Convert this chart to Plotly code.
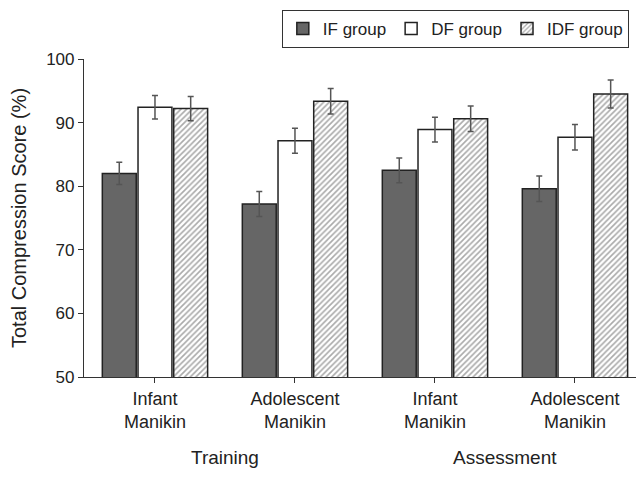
import plotly.graph_objects as go

categories = ["T_inf", "T_ado", "A_inf", "A_ado"]
tick_labels = ["Infant<br>Manikin", "Adolescent<br>Manikin", "Infant<br>Manikin", "Adolescent<br>Manikin"]
phase_labels = ["Training", "Assessment"]

if_vals = [82.0, 77.2, 82.5, 79.6]
if_err = [1.75, 1.95, 1.95, 2.0]
df_vals = [92.4, 87.15, 88.9, 87.7]
df_err = [1.85, 1.95, 1.95, 2.0]
idf_vals = [92.2, 93.35, 90.6, 94.5]
idf_err = [1.9, 2.0, 2.0, 2.2]

FONT = "Liberation Sans, Arial, sans-serif"
ERR = dict(type="data", thickness=1.5, width=3, color="#555555")

fig = go.Figure()
fig.add_trace(go.Bar(
    name="IF group", x=categories, y=if_vals,
    error_y=dict(array=if_err, **ERR),
    marker=dict(color="#666666", line=dict(color="#222222", width=1.5)),
))
fig.add_trace(go.Bar(
    name="DF group", x=categories, y=df_vals,
    error_y=dict(array=df_err, **ERR),
    marker=dict(color="#ffffff", line=dict(color="#222222", width=1.5)),
))
fig.add_trace(go.Bar(
    name="IDF group", x=categories, y=idf_vals,
    error_y=dict(array=idf_err, **ERR),
    marker=dict(color="#ffffff", line=dict(color="#222222", width=1.5),
                pattern=dict(shape="/", fgcolor="#555555", bgcolor="#ffffff",
                             size=4, solidity=0.4)),
))

annotations = []
for i, lab in enumerate(phase_labels):
    annotations.append(dict(
        x=2 * i + 0.5, y=0, xref="x", yref="paper", yanchor="top",
        yshift=-68, text=lab, showarrow=False,
        font=dict(family=FONT, size=19, color="#222222"),
    ))

fig.update_layout(
    width=636, height=480,
    margin=dict(l=84, r=0, t=59, b=103, autoexpand=False),
    paper_bgcolor="white", plot_bgcolor="white",
    barmode="group", bargap=0.235, bargroupgap=0.05,
    font=dict(family=FONT, size=17, color="#222222"),
    showlegend=True,
    legend=dict(
        orientation="h", x=0.987, y=1.154, xanchor="right", yanchor="top",
        bordercolor="#333333", borderwidth=1, bgcolor="white",
        font=dict(family=FONT, size=17, color="#222222"),
        itemwidth=30, traceorder="normal",
    ),
    annotations=annotations,
)
fig.update_xaxes(
    range=[-0.507, 3.436], tickvals=categories, ticktext=tick_labels,
    showline=True, linecolor="#333333", linewidth=1.2,
    ticks="outside", ticklen=5, tickcolor="#333333",
    tickfont=dict(family=FONT, size=18, color="#222222"),
    showgrid=False, zeroline=False,
)
fig.update_yaxes(
    range=[50, 100], tickvals=[50, 60, 70, 80, 90, 100],
    showline=True, linecolor="#333333", linewidth=1.2,
    ticks="outside", ticklen=5, tickcolor="#333333",
    tickfont=dict(family=FONT, size=17, color="#222222"),
    showgrid=False, zeroline=False,
    title=dict(text="Total Compression Score (%)", standoff=14,
               font=dict(family=FONT, size=20, color="#222222")),
)

fig.write_html("out.html")
